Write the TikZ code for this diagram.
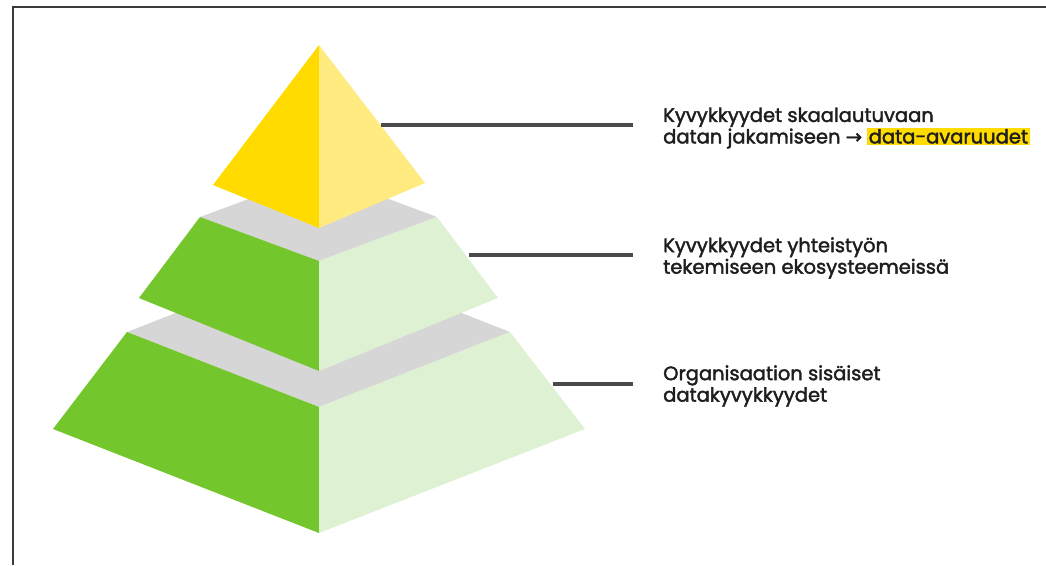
\documentclass[tikz,border=0pt]{standalone}
\usepackage{fontspec}
\setmainfont{Poppins}[FakeBold=2]
\newfontfamily\symf{DejaVu Sans}[FakeBold=2]
\definecolor{ydark}{HTML}{FFDB00}
\definecolor{ylight}{HTML}{FFEB80}
\definecolor{gdark}{HTML}{73C62C}
\definecolor{glight}{HTML}{DFF1D3}
\definecolor{gtop}{HTML}{D6D6D6}
\definecolor{lead}{HTML}{4A4A4A}
\definecolor{txt}{HTML}{1E1E1E}
\definecolor{frame}{HTML}{3A3A3A}
\tikzset{
  face/.style={draw=none},
  leader/.style={draw=lead, line width=3.2pt},
  lbl/.style={anchor=west, align=left, text=txt, inner sep=0pt, font=\fontsize{19.5}{21.5}\selectfont},
}
\begin{document}
\begin{tikzpicture}[x=1pt,y=-1pt]
\useasboundingbox (0,0) rectangle (1046,565);
\fill[white] (0,0) rectangle (1046,565);
% frame (top and left)
\draw[frame, line width=2pt] (13,565) -- (13,7) -- (1046,7);
% bottom tier
\fill[gtop] (127,332) -- (319,257) -- (510,332) -- (319,407) -- cycle;
\fill[gdark] (127,332) -- (319,407) -- (319,533) -- (53,429) -- cycle;
\fill[glight] (319,407) -- (510,332) -- (585,429) -- (319,533) -- cycle;
% middle tier
\fill[gtop] (200,217) -- (319,173) -- (437,217) -- (319,261) -- cycle;
\fill[gdark] (200,217) -- (319,261) -- (319,371) -- (139,298) -- cycle;
\fill[glight] (319,261) -- (437,217) -- (498,298) -- (319,371) -- cycle;
% top
\fill[ydark] (319,45) -- (319,228) -- (213,185) -- cycle;
\fill[ylight] (319,45) -- (425,183) -- (319,228) -- cycle;
% labels
\node[lbl] (t1) at (663,128) {Kyvykkyydet skaalautuvaan\\datan jakamiseen {\symf →} {\setlength{\fboxsep}{1.5pt}\colorbox{ydark}{data-avaruudet}}};
\node[lbl] (t2) at (663,258) {Kyvykkyydet yhteistyön\\tekemiseen ekosysteemeissä};
\node[lbl] (t3) at (663,386) {Organisaation sisäiset\\datakyvykkyydet};
% leader coordinates
\coordinate (p1) at (381,125);
\coordinate (p2) at (469,255);
\coordinate (p3) at (553,384);
\coordinate (q1) at (633,125);
\coordinate (q2) at (633,255);
\coordinate (q3) at (633,384);
\draw[leader] (p1) -- (q1);
\draw[leader] (p2) -- (q2);
\draw[leader] (p3) -- (q3);
\end{tikzpicture}
\end{document}
